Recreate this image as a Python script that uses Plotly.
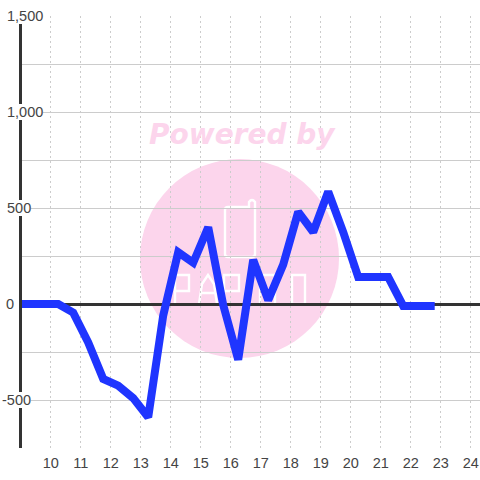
import plotly.graph_objects as go

hours = [8.88, 9.75, 10.25, 10.75, 11.25, 11.75, 12.25, 12.75, 13.25, 13.75, 14.25, 14.75, 15.25, 15.75,
         16.25, 16.75, 17.25, 17.75, 18.25, 18.75, 19.25, 19.75, 20.25, 20.75, 21.25, 21.75, 22.25, 22.8]
values = [0, 0, 0, -45, -200, -390, -425, -490, -590, -60, 270, 215, 400, -5,
          -290, 230, 20, 205, 480, 375, 585, 375, 140, 140, 140, -10, -10, -10]
x_ticks = list(range(10, 25))
y_ticks = [-500, 0, 500, 1000, 1500]
y_grid = [-750, -500, -250, 0, 250, 500, 750, 1000, 1250, 1500]
y_labels = ["-500", "0", "500", "1,000", "1,500"]

W, H = 480, 480
L, R, T, B = 22, 480, 16, 448
def px(x): return (x - L) / (R - L)
def py(y): return 1 - (y - T) / (B - T)
def path(*cmds):
    out = []
    for c in cmds:
        if c == "Z":
            out.append("Z")
        else:
            out.append(f"{c[0]} {px(c[1])} {py(c[2])}")
    return " ".join(out)

PINK = "#fcd5ec"
WHITE_LINE = dict(color="white", width=2.4)
def letter_p(x0, x1):
    return path(("M", x0, 304), ("L", x0, 275), ("L", x1, 275), ("L", x1, 291), ("L", x0, 291))
def letter_a(x0, x1):
    m = (x0 + x1) / 2
    return path(("M", x0, 304), ("L", x0 + 3, 284), ("L", m, 275), ("L", x1 - 3, 284), ("L", x1, 304),
                ("M", x0 + 1, 293), ("L", x1 - 1, 293))
def letter_o(x0, x1):
    return path(("M", x0, 275), ("L", x1, 275), ("L", x1, 304), ("L", x0, 304), "Z")

logo = [
    f"M {px(249)} {py(207)} L {px(228)} {py(207)} Q {px(225)} {py(207)} {px(225)} {py(210)} "
    f"L {px(225)} {py(254)} Q {px(225)} {py(257)} {px(228)} {py(257)} L {px(252)} {py(257)} "
    f"Q {px(255)} {py(257)} {px(255)} {py(254)} L {px(255)} {py(202)} Q {px(252)} {py(198)} {px(249)} {py(202)} Z",
    letter_p(175, 189), letter_a(199, 217), letter_p(224, 239), letter_o(260, 275), letter_o(292, 305),
]
shapes = [dict(type="circle", xref="paper", yref="paper", x0=px(140), x1=px(339), y0=py(358), y1=py(159),
               fillcolor=PINK, line_width=0, layer="below")]
shapes += [dict(type="path", xref="paper", yref="paper", layer="below", line=WHITE_LINE, path=p) for p in logo]

annotations = [dict(text="Powered by", xref="paper", yref="paper", x=px(242), y=py(134), xanchor="center",
                    yanchor="middle", showarrow=False,
                    font=dict(family="DejaVu Sans", size=28, color=PINK, weight="bold", style="italic"))]
for v, t in zip(y_ticks, y_labels):
    annotations.append(dict(text=t, xref="paper", yref="y", x=px(2 if v < 0 else 6.5), y=v, xanchor="left",
                            yanchor="middle", showarrow=False, bgcolor="white", borderpad=0, borderwidth=0,
                            font=dict(family="Liberation Sans", size=14.5, color="#444")))

fig = go.Figure(go.Scatter(x=hours, y=values, mode="lines", line=dict(color="#1f35ff", width=8),
                           cliponaxis=False, hoverinfo="skip"))
fig.update_layout(
    width=W, height=H, autosize=False, showlegend=False, plot_bgcolor="rgba(0,0,0,0)", paper_bgcolor="white",
    margin=dict(l=L, r=W - R, t=T, b=H - B, pad=0),
    font=dict(family="Liberation Sans", size=14.5, color="#444"),
    shapes=shapes, annotations=annotations,
    xaxis=dict(range=[9.043, 24.31], tickvals=x_ticks, ticks="", showgrid=True, griddash="2px,3px",
               gridcolor="#ccc", gridwidth=1, zeroline=False, showline=False, ticklabelstandoff=4),
    yaxis=dict(range=[-750, 1500], tickvals=y_grid, ticktext=[""] * len(y_grid), ticks="", showgrid=True,
               gridcolor="#ccc", gridwidth=1, zeroline=True, zerolinecolor="#333", zerolinewidth=3,
               showline=True, linecolor="#333", linewidth=3),
)
fig.write_html("out.html", config={"displayModeBar": False},
               post_script="document.body.style.margin='0';document.documentElement.style.overflow='hidden';")
